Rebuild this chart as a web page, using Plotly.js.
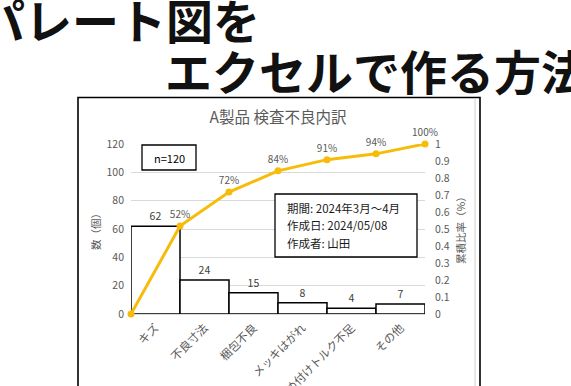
<!DOCTYPE html>
<html>
<head>
<meta charset="utf-8">
<script src="https://cdn.plot.ly/plotly-3.0.1.min.js"></script>
<style>
html,body{margin:0;padding:0;background:#fff;}
#chart{width:571px;height:386px;}
</style>
</head>
<body>
<div id="chart"></div>
<script>
const categories = ['キズ', '不良寸法', '梱包不良', 'メッキはがれ', '締め付けトルク不足', 'その他'];
const counts = [62, 24, 15, 8, 4, 7];
const cumRatio = [0, 0.517, 0.717, 0.842, 0.908, 0.942, 1.0];
const cumLabels = ['', '52%', '72%', '84%', '91%', '94%', '100%'];
const chartTitle = 'A製品 検査不良内訳';
const leftTitle = '数（個）';
const rightTitle = '累積比率（%）';
const nLabel = 'n=120';
const infoLines = ['期間: 2024年3月～4月', '作成日: 2024/05/08', '作成者: 山田'];
const headerLines = ['パレート図を', 'エクセルで作る方法'];

const W = 571, H = 386;
const M = {l: 131, r: 146, t: 144, b: 72};
const PW = W - M.l - M.r, PH = H - M.t - M.b;
const px2x = p => (p - M.l) / PW;
const py2y = p => (H - M.b - p) / PH;

const FONT = '"Noto Sans CJK JP", "Noto Sans", sans-serif';
const GRAY = '#595959';

const barX = categories.map((c, i) => i + 0.5);
const lineX = cumRatio.map((v, i) => i);

const traces = [
  {
    type: 'bar', x: barX, y: counts, width: 1,
    marker: {color: '#ffffff', line: {color: '#000000', width: 1.5}},
    text: counts.map(String), textposition: 'outside',
    textfont: {size: 10.5, color: '#404040', family: FONT},
    cliponaxis: false, hoverinfo: 'skip', showlegend: false
  },
  {
    type: 'scatter', mode: 'lines+markers+text', x: lineX, y: cumRatio, yaxis: 'y2',
    line: {color: '#F7BC0A', width: 3},
    marker: {color: '#F7BC0A', size: 7},
    text: cumLabels, textposition: 'top center',
    textfont: {size: 10, color: GRAY, family: FONT},
    cliponaxis: false, hoverinfo: 'skip', showlegend: false
  }
];

const shapes = [
  {type: 'rect', xref: 'paper', yref: 'paper', x0: px2x(78), x1: px2x(480), y0: py2y(400), y1: py2y(97.5),
   line: {color: '#000', width: 1.6}, layer: 'below'},
  {type: 'line', xref: 'paper', yref: 'paper', x0: px2x(475), x1: px2x(475), y0: py2y(400), y1: py2y(98),
   line: {color: '#d0d0d0', width: 1}, layer: 'below'},
  {type: 'rect', xref: 'paper', yref: 'paper', x0: px2x(142), x1: px2x(196), y0: py2y(170), y1: py2y(145),
   line: {color: '#000', width: 1.3}, fillcolor: '#fff', layer: 'above'},
  {type: 'rect', xref: 'paper', yref: 'paper', x0: px2x(275), x1: px2x(417), y0: py2y(257), y1: py2y(194),
   line: {color: '#000', width: 1.3}, fillcolor: '#fff', layer: 'above'}
];

const annotations = [
  {text: headerLines[0], xref: 'paper', yref: 'paper', x: px2x(-24), y: py2y(18), xanchor: 'left', yanchor: 'middle',
   showarrow: false, font: {family: FONT, size: 47, color: '#111', weight: 'bold'}},
  {text: headerLines[1], xref: 'paper', yref: 'paper', x: px2x(163), y: py2y(69), xanchor: 'left', yanchor: 'middle',
   showarrow: false, font: {family: FONT, size: 47, color: '#111', weight: 'bold'}},
  {text: nLabel, xref: 'paper', yref: 'paper', x: px2x(169), y: py2y(157.5), xanchor: 'center', yanchor: 'middle',
   showarrow: false, font: {family: FONT, size: 11, color: '#000'}},
  {text: leftTitle, xref: 'paper', yref: 'paper', x: px2x(95), y: py2y(229), xanchor: 'center', yanchor: 'middle',
   textangle: -90, showarrow: false, font: {family: FONT, size: 10.5, color: GRAY}},
  {text: rightTitle, xref: 'paper', yref: 'paper', x: px2x(460), y: py2y(228), xanchor: 'center', yanchor: 'middle',
   textangle: -90, showarrow: false, font: {family: FONT, size: 10.5, color: GRAY}}
];
const infoY = [207.7, 225, 242.7];
infoLines.forEach((t, i) => annotations.push({
  text: t, xref: 'paper', yref: 'paper', x: px2x(285), y: py2y(infoY[i]), xanchor: 'left', yanchor: 'middle',
  showarrow: false, font: {family: FONT, size: 11.5, color: '#1a1a1a'}
}));

const layout = {
  width: W, height: H,
  margin: M,
  paper_bgcolor: '#fff', plot_bgcolor: '#fff',
  font: {family: FONT, color: GRAY, size: 10},
  title: {text: chartTitle, x: 278 / W, xanchor: 'center', y: 1 - 118 / H, yanchor: 'middle',
          font: {family: FONT, size: 15.5, color: GRAY}},
  bargap: 0,
  xaxis: {
    range: [0, 6], tickvals: barX, ticktext: categories, tickangle: -45,
    showgrid: false, zeroline: false, showline: false, ticks: '',
    ticklabelstandoff: 4,
    tickfont: {size: 11.5, color: GRAY, family: FONT}, fixedrange: true
  },
  yaxis: {
    range: [0, 120], dtick: 20, showgrid: true, gridcolor: '#d9d9d9', gridwidth: 1,
    zeroline: true, zerolinecolor: '#d9d9d9', zerolinewidth: 1, showline: false, ticks: '',
    ticklabelstandoff: 6,
    tickfont: {size: 10.5, color: GRAY, family: FONT}, fixedrange: true
  },
  yaxis2: {
    range: [0, 1], dtick: 0.1, overlaying: 'y', side: 'right', showgrid: false, zeroline: false,
    showline: false, ticks: '', ticklabelstandoff: 9,
    tickfont: {size: 10.5, color: GRAY, family: FONT}, fixedrange: true
  },
  shapes: shapes,
  annotations: annotations
};

Plotly.newPlot('chart', traces, layout, {displayModeBar: false, staticPlot: true});
</script>
</body>
</html>
